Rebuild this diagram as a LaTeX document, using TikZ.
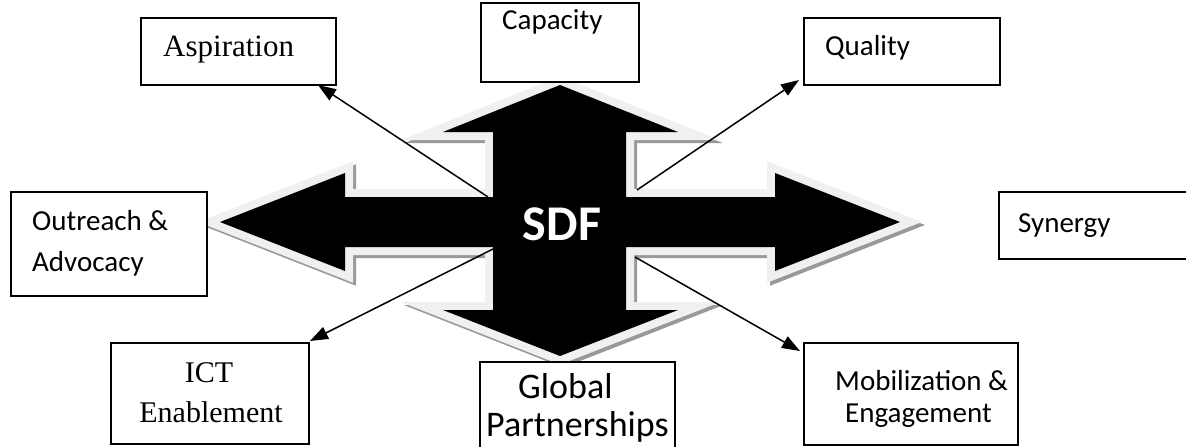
\documentclass[tikz,border=0pt]{standalone}
\usepackage{fontspec}
\setmainfont{Liberation Serif}
\newfontfamily\calfont{Carlito}
\usetikzlibrary{arrows.meta}
\begin{document}
\begin{tikzpicture}[x=1pt,y=-1pt,
  box/.style={draw=black, line width=2pt, fill=white, inner sep=0pt, anchor=north west},
  ctxt/.style={font=\calfont\fontsize{29}{34}\selectfont, inner sep=0pt, anchor=base west},
  ttxt/.style={font=\fontsize{31}{36}\selectfont, inner sep=0pt, anchor=base west},
  conn/.style={draw=black, line width=1.5pt, -{Triangle[length=18pt,width=13pt]}},
  arrshape/.style={line width=16pt, line join=miter, miter limit=10}
]
\useasboundingbox (0,0) rectangle (1186,447);
\def\fourarrow{(560,85) -- (678,132) -- (626,132) -- (626,197) -- (775,197) -- (775,173) -- (900,222) -- (775,271) -- (775,247) -- (626,247) -- (626,310) -- (678,310) -- (560,356) -- (443,310) -- (493,310) -- (493,247) -- (345,247) -- (345,271) -- (220,222) -- (345,173) -- (345,197) -- (493,197) -- (493,132) -- (443,132) -- cycle}
% shadow
\begin{scope}[shift={(3,3)}]
\filldraw[arrshape, draw=black!40, fill=black!40] \fourarrow;
\end{scope}
% light outline
\filldraw[arrshape, draw=black!6, fill=black!6] \fourarrow;
% black arrow
\fill[black] \fourarrow;
\node[font=\calfont\bfseries\fontsize{50}{56}\selectfont, text=white, inner sep=0pt, anchor=base] (sdf) at (562,240) {SDF};

% boxes
\node[box, minimum width=195pt, minimum height=67pt] (asp) at (140,17) {};
\node[ttxt] (aspt) at (163,56) {Aspiration};

\node[box, minimum width=158pt, minimum height=79pt] (cap) at (480,2) {};
\node[ctxt] (capt) at (502,29) {Capacity};

\node[box, minimum width=196pt, minimum height=67pt] (qua) at (803,17) {};
\node[ctxt] (quat) at (825,55) {Quality};

\node[box, minimum width=196pt, minimum height=104pt] (out) at (10,191) {};
\node[ctxt] (outt1) at (32,230) {Outreach \&};
\node[ctxt] (outt2) at (32,271) {Advocacy};

\node[box, minimum width=196pt, minimum height=67pt] (syn) at (998,191) {};
\node[ctxt] (synt) at (1018,232) {Synergy};

\node[box, minimum width=198pt, minimum height=101pt] (ict) at (110,342) {};
\node[font=\fontsize{30}{36}\selectfont, inner sep=0pt, anchor=base] (ictt1) at (209,382) {ICT};
\node[font=\fontsize{30}{36}\selectfont, inner sep=0pt, anchor=base] (ictt2) at (211,422) {Enablement};

\node[box, minimum width=195pt, minimum height=92pt] (glo) at (479,361) {};
\node[ctxt, font=\calfont\fontsize{36}{40}\selectfont] (glot1) at (518,398) {Global};
\node[ctxt, font=\calfont\fontsize{36}{40}\selectfont] (glot2) at (486,436) {Partnerships};

\node[box, minimum width=214pt, minimum height=102pt] (mob) at (803,342) {};
\node[ctxt] (mobt1) at (835,390) {Mobilization \&};
\node[ctxt] (mobt2) at (845,422) {Engagement};

% connector ends
\coordinate (s1) at (488,197);
\coordinate (e1) at (318,85);
\coordinate (s2) at (637,190);
\coordinate (e2) at (799,80);
\coordinate (s3) at (493,249);
\coordinate (e3) at (310,341);
\coordinate (s4) at (635,257);
\coordinate (e4) at (800,351);
\draw[conn] (s1) -- (e1);
\draw[conn] (s2) -- (e2);
\draw[conn] (s3) -- (e3);
\draw[conn] (s4) -- (e4);
\end{tikzpicture}
\end{document}
